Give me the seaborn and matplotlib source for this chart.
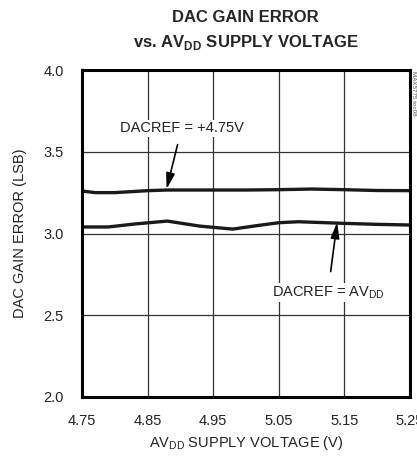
import numpy as np
import pandas as pd
import matplotlib
matplotlib.use("Agg")
import matplotlib.pyplot as plt
import seaborn as sns

# data
volt_upper = [4.75, 4.77, 4.80, 4.85, 4.88, 4.95, 5.00, 5.05, 5.10, 5.15, 5.20, 5.25]
gain_upper = [3.26, 3.25, 3.25, 3.262, 3.266, 3.266, 3.266, 3.268, 3.272, 3.268, 3.263, 3.262]

volt_lower = [4.75, 4.79, 4.83, 4.88, 4.93, 4.98, 5.02, 5.05, 5.08, 5.15, 5.20, 5.25]
gain_lower = [3.04, 3.04, 3.058, 3.076, 3.045, 3.027, 3.05, 3.066, 3.072, 3.062, 3.056, 3.052]

x_ticks = [4.75, 4.85, 4.95, 5.05, 5.15, 5.25]
y_ticks = [2.0, 2.5, 3.0, 3.5, 4.0]

df = pd.concat([
    pd.DataFrame({"volt": volt_upper, "gain": gain_upper, "ref": "+4.75V"}),
    pd.DataFrame({"volt": volt_lower, "gain": gain_lower, "ref": "AVDD"}),
])

sns.set_style("white")
plt.rcParams["font.family"] = ["Liberation Sans", "DejaVu Sans"]
plt.rcParams["mathtext.fontset"] = "custom"
plt.rcParams["mathtext.rm"] = "Liberation Sans"
plt.rcParams["mathtext.bf"] = "Liberation Sans:bold"

fig = plt.figure(figsize=(4.17, 4.57), dpi=100)
ax = fig.add_axes([0.1966, 0.1313, 0.7864, 0.7155])

sns.lineplot(data=df, x="volt", y="gain", units="ref", estimator=None,
             color="#1a1a1a", linewidth=2.4, ax=ax, legend=False)

ax.set_xlim(4.75, 5.25)
ax.set_ylim(2.0, 4.0)
ax.set_xticks(x_ticks)
ax.set_xticklabels([f"{v:.2f}" for v in x_ticks])
ax.set_yticks(y_ticks)
ax.set_yticklabels([f"{v:.1f}" for v in y_ticks])
ax.tick_params(axis="both", length=0, labelsize=10.5, colors="#222222")
ax.tick_params(axis="x", pad=12)
ax.tick_params(axis="y", pad=13)
ax.grid(True, color="#333333", linewidth=0.9)
for s in ax.spines.values():
    s.set_visible(True)
    s.set_color("black")
    s.set_linewidth(2.2)

ax.set_xlabel(r"AV$_{\mathrm{DD}}$ SUPPLY VOLTAGE (V)", fontsize=10.5, color="#222222")
ax.set_ylabel("DAC GAIN ERROR (LSB)", fontsize=10.5, color="#222222")
ax.xaxis.set_label_coords(0.5, -0.112)
ax.yaxis.set_label_coords(-0.168, 0.5)

fig.text(0.589, 0.962, "DAC GAIN ERROR", ha="center", va="center",
         fontsize=12, fontweight="bold")
fig.text(0.589, 0.908, r"vs. AV$_{\mathbf{DD}}$ SUPPLY VOLTAGE", ha="center", va="center",
         fontsize=12, fontweight="bold")

ax.annotate("DACREF = +4.75V", xy=(4.879, 3.272), xytext=(4.902, 3.645),
            ha="center", va="center", fontsize=10.5, color="#222222",
            bbox=dict(boxstyle="square,pad=0.1", fc="white", ec="none"),
            arrowprops=dict(arrowstyle="-|>,head_length=0.9,head_width=0.25",
                            color="black", lw=1.2, shrinkA=6, shrinkB=0))
ax.annotate(r"DACREF = AV$_{\mathrm{DD}}$", xy=(5.139, 3.068), xytext=(5.125, 2.64),
            ha="center", va="center", fontsize=10.5, color="#222222",
            bbox=dict(boxstyle="square,pad=0.1", fc="white", ec="none"),
            arrowprops=dict(arrowstyle="-|>,head_length=0.9,head_width=0.25",
                            color="black", lw=1.2, shrinkA=8, shrinkB=0))

fig.text(0.992, 0.845, "MAX5775 toc08", rotation=-90, ha="center", va="top",
         fontsize=4.5, color="#555555")

fig.savefig("out.png", dpi=100)
